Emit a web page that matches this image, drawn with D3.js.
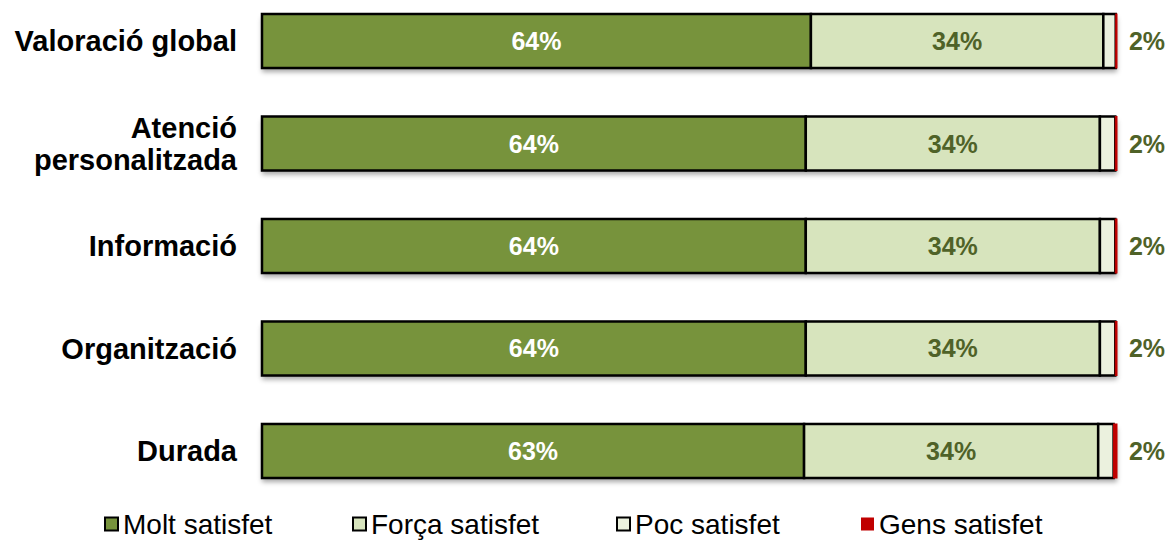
<!DOCTYPE html>
<html><head><meta charset="utf-8">
<script src="https://cdn.jsdelivr.net/npm/d3@7"></script>
<style>body{margin:0;background:#fff}svg{display:block}</style>
</head><body>
<script>
const categories = ["Valoració global", "Atenció\npersonalitzada", "Informació", "Organització", "Durada"];
const moltSatisfet  = [64.2, 63.6, 63.6, 63.6, 63.4];
const forcaSatisfet = [34.2, 34.4, 34.4, 34.4, 34.4];
const pocSatisfet   = [1.45, 1.8, 1.8, 1.8, 1.8];
const gensSatisfet  = [0.15, 0.2, 0.2, 0.2, 0.4];
const seriesNames = ["Molt satisfet", "Força satisfet", "Poc satisfet", "Gens satisfet"];
const seriesColors = ["#77933C", "#D7E4BD", "#EBF1DE", "#C00000"];

const W = 1170, H = 540;
const svg = d3.select("body").append("svg").attr("width", W).attr("height", H);
const defs = svg.append("defs");
const f = defs.append("filter").attr("id","shadow").attr("x","-5%").attr("y","-20%").attr("width","110%").attr("height","160%");
f.append("feDropShadow").attr("dx",0).attr("dy",4).attr("stdDeviation",2.5).attr("flood-color","#000").attr("flood-opacity",0.35);

const x = d3.scaleLinear().domain([0, 100]).range([262, 1117]);
const y = d3.scaleBand().domain(categories).range([14, 478]).paddingInner(0.473).paddingOuter(0);

const data = categories.map((c, i) => ({cat: c, vals: [moltSatisfet[i], forcaSatisfet[i], pocSatisfet[i], gensSatisfet[i]]}));
const stackRows = data.map(d => {
  let acc = 0;
  return {cat: d.cat, segs: d.vals.map((v, k) => { const s = {k, v, x0: acc, x1: acc + v}; acc += v; return s; })};
});

const FONT = "Liberation Sans, Arial, sans-serif";
const rows = svg.append("g").selectAll("g").data(stackRows).join("g");
rows.append("rect")
  .attr("x", d => x(0)).attr("y", d => y(d.cat))
  .attr("width", d => x(d.segs[3].x1) - x(0)).attr("height", y.bandwidth())
  .attr("fill", "#fff").attr("filter", "url(#shadow)");

rows.selectAll("rect.seg").data(d => d.segs.map(s => ({...s, cat: d.cat}))).join("rect")
  .attr("class", "seg")
  .attr("x", s => x(s.x0)).attr("y", s => y(s.cat))
  .attr("width", s => x(s.x1) - x(s.x0)).attr("height", y.bandwidth())
  .attr("fill", s => seriesColors[s.k])
  .attr("stroke", s => s.k === 3 ? "#C00000" : "#000")
  .attr("stroke-width", s => s.k === 3 ? 1 : 2.5);

rows.selectAll("text.val").data(d => d.segs.slice(0, 2).map(s => ({...s, cat: d.cat}))).join("text")
  .attr("class", "val")
  .attr("x", s => (x(s.x0) + x(s.x1)) / 2)
  .attr("y", s => y(s.cat) + y.bandwidth() / 2)
  .attr("dy", "0.36em").attr("text-anchor", "middle")
  .attr("font-family", FONT).attr("font-weight", "bold").attr("font-size", 25)
  .attr("fill", s => s.k === 0 ? "#fff" : "#4F6228")
  .text(s => Math.round(s.v) + "%");

rows.append("text")
  .attr("x", 1147).attr("y", d => y(d.cat) + y.bandwidth() / 2)
  .attr("dy", "0.36em").attr("text-anchor", "middle")
  .attr("font-family", FONT).attr("font-weight", "bold").attr("font-size", 25)
  .attr("fill", "#4F6228")
  .text(d => Math.round(d.segs[2].v + d.segs[3].v) + "%");

rows.each(function(d) {
  const lines = d.cat.split("\n");
  const t = d3.select(this).append("text")
    .attr("text-anchor", "end")
    .attr("font-family", FONT).attr("font-weight", "bold").attr("font-size", 29)
    .attr("fill", "#000");
  const cy = y(d.cat) + y.bandwidth() / 2;
  const lh = 32;
  lines.forEach((ln, i) => {
    t.append("tspan").attr("x", 237)
      .attr("y", cy + (i - (lines.length - 1) / 2) * lh)
      .attr("dy", "0.36em").text(ln);
  });
});

const legX = [104, 352, 616, 860];
const leg = svg.append("g").selectAll("g").data(seriesNames).join("g")
  .attr("transform", (d, i) => `translate(${legX[i]},524)`);
leg.append("rect").attr("x", 1).attr("y", -6.5).attr("width", 13).attr("height", 13)
  .attr("fill", (d, i) => seriesColors[i])
  .attr("stroke", (d, i) => i === 3 ? "none" : "#000").attr("stroke-width", 2);
leg.append("text").attr("x", 19).attr("y", 0).attr("dy", "0.36em")
  .attr("font-family", FONT).attr("font-size", 28).attr("fill", "#000")
  .text(d => d);
</script>
</body></html>
